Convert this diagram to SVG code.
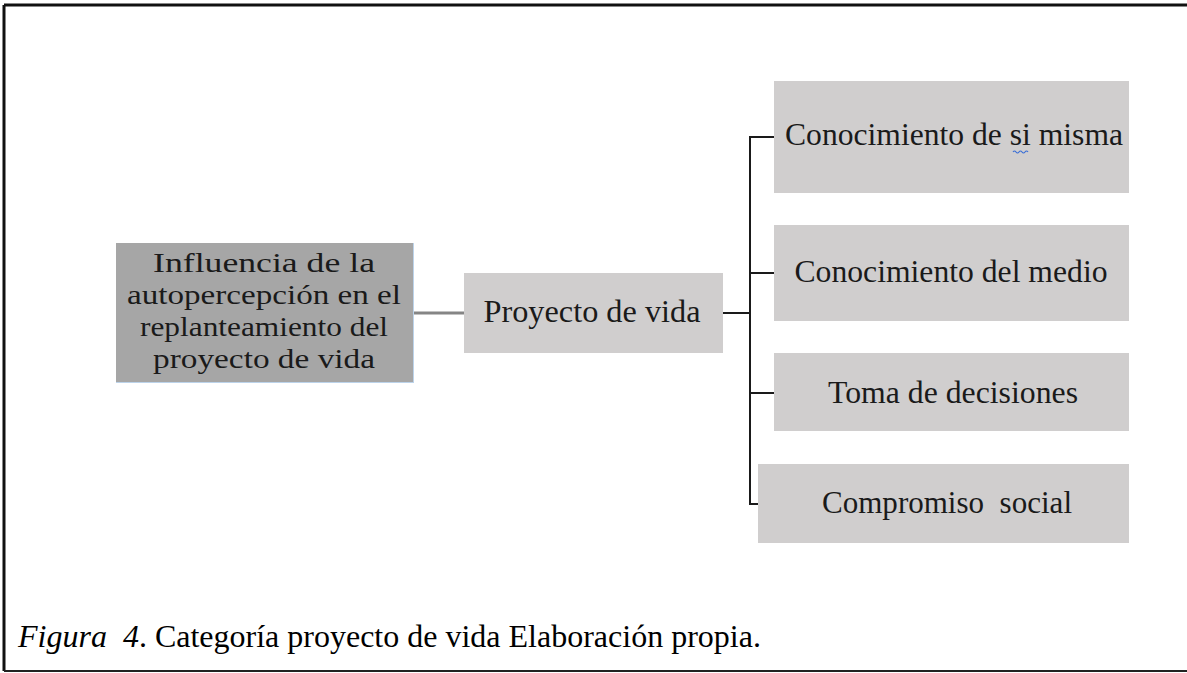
<svg xmlns="http://www.w3.org/2000/svg" width="1187" height="673" viewBox="0 0 1187 673">
<style>
.t{font-family:"Liberation Serif","Times New Roman",serif;font-size:32px;fill:#1a1a1a;text-anchor:middle}
.tm{font-family:"Liberation Serif","Times New Roman",serif;font-size:27px;fill:#1a1a1a;text-anchor:middle}
.cap{font-family:"Liberation Serif","Times New Roman",serif;font-size:32px;fill:#000}
.light{fill:#d0cece}
.dark{fill:#a6a6a6}
.bus{stroke:#1a1a1a;stroke-width:2;fill:none}
</style>
<rect x="0" y="0" width="1187" height="673" fill="#fff"/>
<g id="frame" fill="none">
<line x1="4" y1="5" x2="1187" y2="5" stroke="#111" stroke-width="3"/>
<line x1="4" y1="5" x2="4" y2="671" stroke="#111" stroke-width="3"/>
<line x1="4" y1="671" x2="1187" y2="671" stroke="#222" stroke-width="2"/>
</g>
<g id="connectors">
<line x1="413" y1="313" x2="464" y2="313" stroke="#858585" stroke-width="3"/>
<line class="bus" x1="723" y1="313" x2="750" y2="313"/>
<line class="bus" x1="750" y1="136" x2="750" y2="505"/>
<line class="bus" x1="749" y1="137" x2="774" y2="137"/>
<line class="bus" x1="749" y1="273" x2="774" y2="273"/>
<line class="bus" x1="749" y1="393" x2="774" y2="393"/>
<line class="bus" x1="749" y1="504" x2="758" y2="504"/>
</g>
<g id="node-main">
<rect class="dark" x="116" y="243" width="297" height="139"/>
<line x1="116" y1="382.5" x2="413" y2="382.5" stroke="#bcd3ea" stroke-width="1"/>
<line x1="413.5" y1="243" x2="413.5" y2="383" stroke="#bcd3ea" stroke-width="1"/>
<text class="tm" x="264" y="272" textLength="222" lengthAdjust="spacingAndGlyphs">Influencia de la</text>
<text class="tm" x="264" y="304" textLength="274" lengthAdjust="spacingAndGlyphs">autopercepción en el</text>
<text class="tm" x="264" y="336" textLength="248" lengthAdjust="spacingAndGlyphs">replanteamiento del</text>
<text class="tm" x="264" y="368" textLength="222" lengthAdjust="spacingAndGlyphs">proyecto de vida</text>
</g>
<g id="node-proyecto">
<rect class="light" x="464" y="273" width="259" height="80"/>
<text class="t" x="592" y="322" textLength="217" lengthAdjust="spacingAndGlyphs">Proyecto de vida</text>
</g>
<g id="node-conocimiento-si">
<rect class="light" x="774" y="81" width="355" height="112"/>
<text class="t" x="954" y="145" textLength="338" lengthAdjust="spacingAndGlyphs">Conocimiento de si misma</text>
<path d="M1013 152 q1.5 -2 3 0 t3 0 t3 0 t3 0 t3 0" stroke="#3b6fd6" stroke-width="1.2" fill="none"/>
</g>
<g id="node-conocimiento-medio">
<rect class="light" x="774" y="225" width="355" height="96"/>
<text class="t" x="951" y="282" textLength="313" lengthAdjust="spacingAndGlyphs">Conocimiento del medio</text>
</g>
<g id="node-toma">
<rect class="light" x="774" y="353" width="355" height="78"/>
<text class="t" x="953" y="403" textLength="250" lengthAdjust="spacingAndGlyphs">Toma de decisiones</text>
</g>
<g id="node-compromiso">
<rect class="light" x="758" y="464" width="371" height="79"/>
<text class="t" x="947" y="513" textLength="250" lengthAdjust="spacingAndGlyphs" xml:space="preserve">Compromiso  social</text>
</g>
<text class="cap" x="18" y="647" xml:space="preserve"><tspan font-style="italic">Figura  4</tspan>. Categoría proyecto de vida Elaboración propia.</text>
</svg>
